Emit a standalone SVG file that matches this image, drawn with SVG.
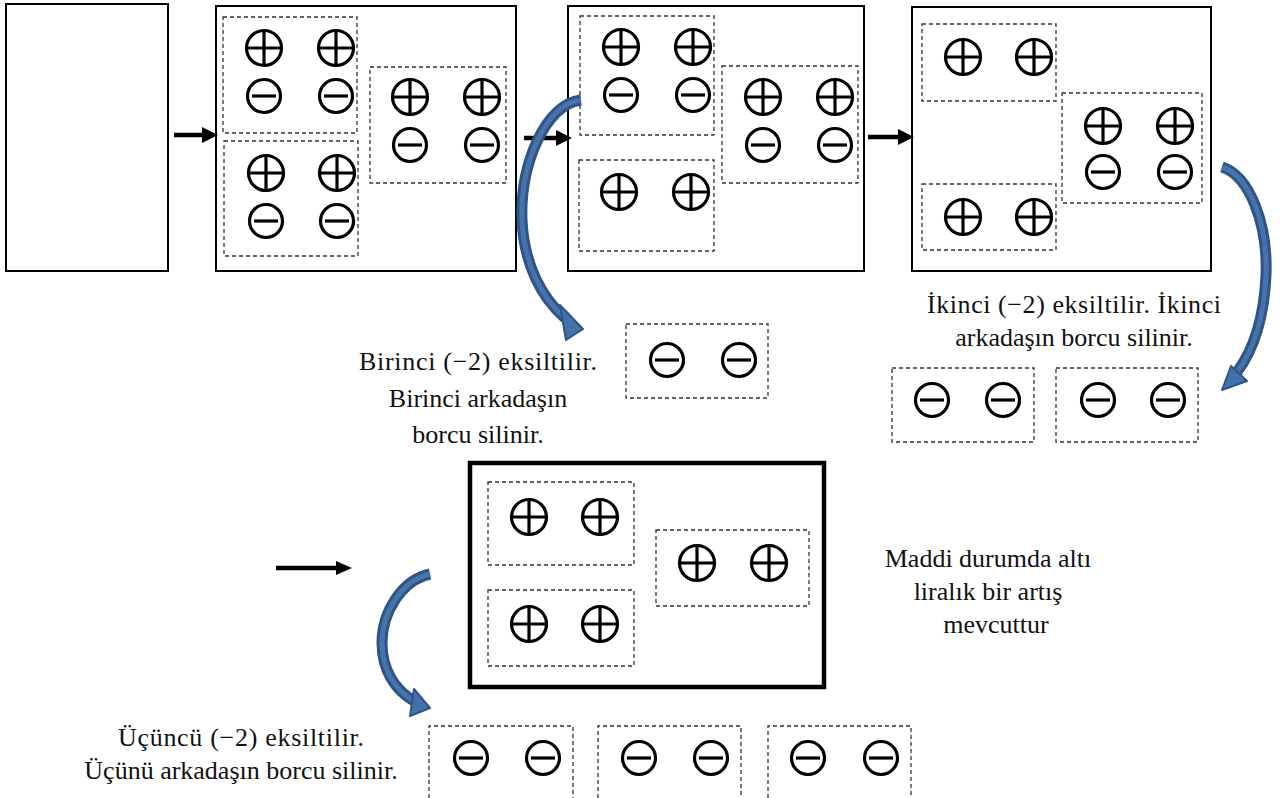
<svg xmlns="http://www.w3.org/2000/svg" width="1285" height="798" viewBox="0 0 1285 798">
<defs>
<style>
.panel{fill:#fff;stroke:#000;stroke-width:2}
.dbox{fill:none;stroke:#333;stroke-width:1.3;stroke-dasharray:4 3}
.sym{fill:none;stroke:#000;stroke-width:3.2}
.t{font-size:26px;fill:#111;text-anchor:middle}
.ar{stroke:#000;stroke-width:4.5;fill:none}
.cu1{fill:none;stroke:#2f5486;stroke-width:11;stroke-linecap:butt}
.cu2{fill:none;stroke:#4673aa;stroke-width:5;stroke-linecap:butt}
.hd{fill:#4471a8;stroke:#2f5486;stroke-width:2;stroke-linejoin:round}
</style>
<g id="p"><circle cx="0" cy="0" r="17.5" class="sym"/><line x1="-17.5" y1="0" x2="17.5" y2="0" class="sym"/><line x1="0" y1="-17.5" x2="0" y2="17.5" class="sym"/></g>
<g id="m"><circle cx="0" cy="0" r="16.5" class="sym"/><line x1="-12" y1="0" x2="12" y2="0" class="sym" stroke-width="3.6"/></g>
</defs>
<rect width="1285" height="798" fill="#fff"/>

<g id="panel0"><rect x="6" y="4" width="162" height="267" class="panel"/></g>

<g id="panel1">
<rect x="216" y="6" width="300" height="265" class="panel"/>
<rect x="223" y="17" width="134" height="116" class="dbox"/>
<rect x="224" y="141" width="134" height="115" class="dbox"/>
<rect x="370" y="67" width="136" height="116" class="dbox"/>
<use href="#p" x="264" y="48"/><use href="#p" x="336" y="48"/>
<use href="#m" x="264" y="96"/><use href="#m" x="336" y="96"/>
<use href="#p" x="266" y="173"/><use href="#p" x="337" y="173"/>
<use href="#m" x="266" y="221"/><use href="#m" x="337" y="221"/>
<use href="#p" x="410" y="97"/><use href="#p" x="482" y="97"/>
<use href="#m" x="410" y="145"/><use href="#m" x="482" y="145"/>
</g>

<g id="panel2">
<rect x="568" y="6" width="296" height="265" class="panel"/>
<rect x="580" y="16" width="134" height="119" class="dbox"/>
<rect x="722" y="66" width="136" height="117" class="dbox"/>
<rect x="579" y="160" width="135" height="91" class="dbox"/>
<use href="#p" x="621" y="47"/><use href="#p" x="693" y="47"/>
<use href="#m" x="621" y="95"/><use href="#m" x="693" y="95"/>
<use href="#p" x="763" y="97"/><use href="#p" x="835" y="97"/>
<use href="#m" x="763" y="145"/><use href="#m" x="835" y="145"/>
<use href="#p" x="619" y="192"/><use href="#p" x="691" y="192"/>
</g>

<g id="panel3">
<rect x="912" y="7" width="299" height="264" class="panel"/>
<rect x="922" y="24" width="134" height="77" class="dbox"/>
<rect x="1062" y="93" width="140" height="110" class="dbox"/>
<rect x="922" y="184" width="134" height="66" class="dbox"/>
<use href="#p" x="963" y="57"/><use href="#p" x="1034" y="57"/>
<use href="#p" x="1103" y="126"/><use href="#p" x="1175" y="126"/>
<use href="#m" x="1103" y="172"/><use href="#m" x="1175" y="172"/>
<use href="#p" x="963" y="217"/><use href="#p" x="1034" y="217"/>
</g>

<g id="removed1">
<rect x="626" y="324" width="142" height="74" class="dbox"/>
<use href="#m" x="667" y="360"/><use href="#m" x="739" y="360"/>
</g>

<g id="removed2">
<rect x="892" y="368" width="142" height="74" class="dbox"/>
<rect x="1056" y="368" width="142" height="74" class="dbox"/>
<use href="#m" x="932" y="400"/><use href="#m" x="1003" y="400"/>
<use href="#m" x="1098" y="400"/><use href="#m" x="1168" y="400"/>
</g>

<g id="final">
<rect x="470" y="463" width="354" height="224" fill="#fff" stroke="#000" stroke-width="4.5"/>
<rect x="488" y="482" width="146" height="83" class="dbox"/>
<rect x="656" y="530" width="153" height="76" class="dbox"/>
<rect x="488" y="590" width="146" height="76" class="dbox"/>
<use href="#p" x="529" y="517"/><use href="#p" x="600" y="517"/>
<use href="#p" x="697" y="563"/><use href="#p" x="769" y="563"/>
<use href="#p" x="529" y="624"/><use href="#p" x="600" y="624"/>
</g>

<g id="removed3">
<path d="M429,798 V726 H573 V798 M598,798 V726 H741 V798 M768,798 V726 H911 V798" class="dbox"/>
<use href="#m" x="471" y="758"/><use href="#m" x="543" y="758"/>
<use href="#m" x="639" y="758"/><use href="#m" x="711" y="758"/>
<use href="#m" x="808" y="758"/><use href="#m" x="881" y="758"/>
</g>

<g id="labels" font-family="'Liberation Serif', 'Times New Roman', 'DejaVu Serif', serif">
<text class="t" x="478" y="370" textLength="238" lengthAdjust="spacing">Birinci (−2) eksiltilir.</text>
<text class="t" x="478" y="407">Birinci arkadaşın</text>
<text class="t" x="478" y="443">borcu silinir.</text>
<text class="t" x="1074" y="313" textLength="294" lengthAdjust="spacing">İkinci (−2) eksiltilir. İkinci</text>
<text class="t" x="1074" y="346">arkadaşın borcu silinir.</text>
<text class="t" x="988" y="567">Maddi durumda altı</text>
<text class="t" x="988" y="600">liralık bir artış</text>
<text class="t" x="996" y="633">mevcuttur</text>
<text class="t" x="241" y="746" textLength="246" lengthAdjust="spacing">Üçüncü (−2) eksiltilir.</text>
<text class="t" x="241" y="779">Üçünü arkadaşın borcu silinir.</text>
</g>

<g id="connectors">
<line x1="174" y1="135" x2="204" y2="135" class="ar"/>
<polygon points="202,127 218,135 202,143" fill="#000"/>
<line x1="524" y1="138" x2="558" y2="138" class="ar"/>
<polygon points="556,130 572,138 556,146" fill="#000"/>
<line x1="868" y1="137" x2="900" y2="137" class="ar"/>
<polygon points="898,129 914,137 898,145" fill="#000"/>
<line x1="276" y1="568" x2="338" y2="568" class="ar" stroke-width="3.5"/>
<polygon points="336,561 352,568 336,575" fill="#000"/>

<path d="M581,100 C545,104 520,165 522,220 C524,265 542,298 565,318" class="cu1"/>
<path d="M581,100 C545,104 520,165 522,220 C524,265 542,298 565,318" class="cu2"/>
<polygon points="560,305 583,329 566,340" class="hd"/>

<path d="M1222,167 C1250,176 1268,225 1266,275 C1264,320 1252,352 1237,372" class="cu1"/>
<path d="M1222,167 C1250,176 1268,225 1266,275 C1264,320 1252,352 1237,372" class="cu2"/>
<polygon points="1231,366 1247,381 1222,390" class="hd"/>

<path d="M430,574 C402,580 382,612 382,643 C382,670 395,690 414,701" class="cu1"/>
<path d="M430,574 C402,580 382,612 382,643 C382,670 395,690 414,701" class="cu2"/>
<polygon points="414,689 430,708 410,716" class="hd"/>
</g>
</svg>
